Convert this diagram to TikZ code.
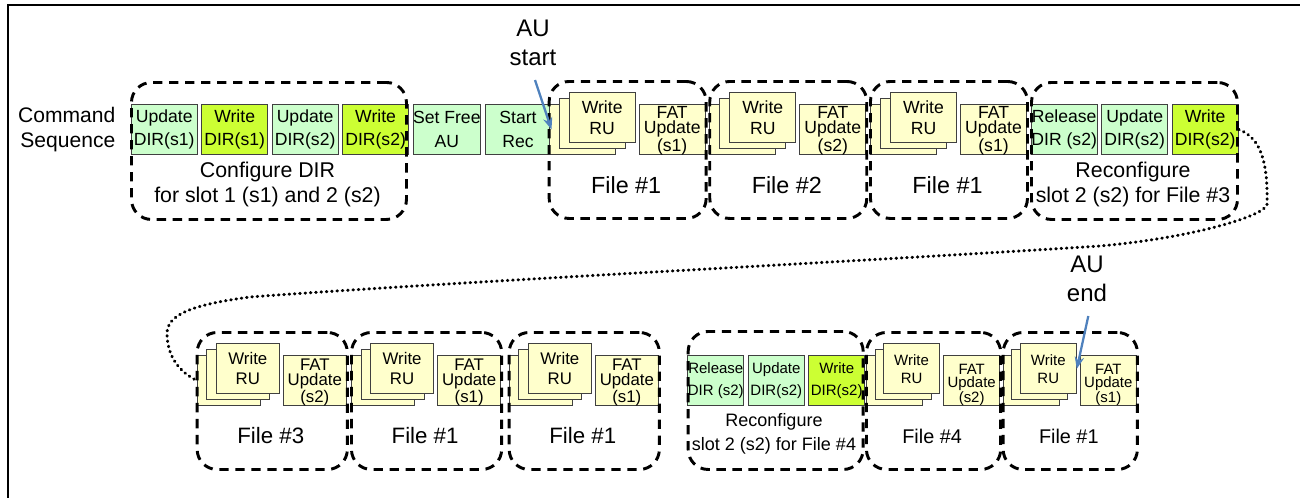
\documentclass[tikz,border=0pt]{standalone}
\usepackage{fontspec}
\setmainfont{Liberation Sans}
\usetikzlibrary{arrows.meta,positioning}
\definecolor{seqGreen}{RGB}{204,255,204}
\definecolor{seqLime}{RGB}{204,255,51}
\definecolor{seqYellow}{RGB}{255,255,204}
\definecolor{seqLine}{RGB}{64,64,64}
\definecolor{seqBlue}{RGB}{79,129,189}

\begin{document}
\begin{tikzpicture}[
  x=0.75pt, y=-0.75pt,
  node distance=2.6pt,
  cmd/.style={draw=seqLine, line width=0.75pt, fill=seqGreen, inner sep=0pt, align=center, minimum width=49.5pt, minimum height=37.5pt, font=\fontsize{13.2}{17.5}\selectfont},
  cmdw/.style={cmd, fill=seqLime},
  cmds/.style={cmd, minimum width=42pt, font=\fontsize{11.25}{16}\selectfont},
  ru/.style={draw=seqLine, line width=0.75pt, fill=seqYellow, inner sep=0pt, align=center, minimum height=37.5pt, anchor=north west},
  grp/.style={draw=black, line width=2.2pt, dash pattern=on 7pt off 5pt, rounded corners=15pt, inner sep=0pt, anchor=north west},
  lbl/.style={align=center, font=\fontsize{16}{18.75}\selectfont},
  auarr/.style={-{Stealth[length=9pt,width=7pt]}, draw=seqBlue, line width=1.7pt},
  link/.style={line width=2.3pt, line cap=round, dash pattern=on 0.4pt off 3.6pt}
]
\useasboundingbox (0,0) rectangle (1300,497);
\clip (0,0) rectangle (1300,497);
\draw[line width=1.5pt] (7.5,520) |- (1320,4.5);

\node[cmd, anchor=north west] (ud1) at (130.7,104) {Update\\DIR(s1)};
\node[cmdw, right=of ud1] (wd1) {Write\\DIR(s1)};
\node[cmd, right=of wd1] (ud2) {Update\\DIR(s2)};
\node[cmdw, right=of ud2] (wd2) {Write\\DIR(s2)};
\node[cmd, right=of wd2] (sf) {Set Free\\AU};
\node[cmd, right=of sf] (sr) {Start\\Rec};
\node[lbl, left=8pt of ud1, align=right, font=\fontsize{15.8}{18.3}\selectfont] (cmdseq) {Command\\Sequence};
\node[grp, minimum width=206.25pt, minimum height=102.75pt] (cfgGrp) at (130,81) {};
\node[lbl] (cfgLab) at (267.5,184) {Configure DIR\\for slot 1 (s1) and 2 (s2)};

\node[cmd, anchor=north west] (rel3) at (1030.7,104) {Release\\DIR (s2)};
\node[cmd, right=of rel3] (upd3) {Update\\DIR(s2)};
\node[cmdw, right=of upd3] (wr3) {Write\\DIR(s2)};
\node[grp, minimum width=154.5pt, minimum height=102.75pt] (rcf3Grp) at (1030,81) {};
\node[lbl] (rcf3Lab) at (1133,184) {Reconfigure\\slot 2 (s2) for File \#3};

\node[cmds, anchor=north west] (rel4) at (687.3,355) {Release\\DIR (s2)};
\node[cmds, right=of rel4] (upd4) {Update\\DIR(s2)};
\node[cmds, fill=seqLime, right=of upd4] (wr4) {Write\\DIR(s2)};
\node[grp, minimum width=131.25pt, minimum height=103.5pt] (rcf4Grp) at (686.7,330) {};
\node[lbl, font=\fontsize{13.5}{18}\selectfont] (rcf4Lab) at (774,434) {Reconfigure\\slot 2 (s2) for File \#4};

\foreach \nm/\gx/\gy/\gs/\fnum/\slt in {f1a/547.7/104/1/1/1, f2/708.3/104/1/2/2, f1b/869/104/1/1/1,
    f3/195.7/355/0.955/3/2, f1c/350/355/0.955/1/1, f1d/507.7/355/0.955/1/1,
    f4/865/355/0.85/4/2, f1e/1001.7/355/0.85/1/1}{
  \pgfmathsetmacro\gw{66*\gs}
  \pgfmathsetmacro\gd{10*\gs}
  \pgfmathsetmacro\fsa{13.2*\gs}
  \pgfmathsetmacro\fsb{15.75*\gs}
  \pgfmathsetmacro\fsc{11.25*\gs}
  \pgfmathsetmacro\fsl{17.5*\gs}
  \node[ru, minimum width=\gw*0.75pt] (\nm-back) at (\gx+1,\gy) {};
  \node[ru, minimum width=\gw*0.75pt] (\nm-mid) at (\gx+1+\gd,\gy-5.8) {};
  \node[ru, minimum width=\gw*0.75pt, font=\fontsize{\fsa}{\fsb}\selectfont] (\nm-ru) at (\gx+1+2*\gd,\gy-11.6) {Write\\RU};
  \node[ru, minimum width=\gw*0.75pt,
    label={[name=\nm-fattxt, anchor=south, inner sep=0pt, align=center, font=\fontsize{\fsa}{\fsc}\selectfont]south:{FAT\\Update\\(s\slt)}}]
    (\nm-fat) at (\gx+5+2*\gd+\gw,\gy) {};
  \node[grp, minimum width=(2*\gw+2*\gd+5)*0.75pt, minimum height=102.75pt] (\nm-grp) at (\gx,\gy-24) {};
  \node[lbl, font=\fontsize{\fsl}{\fsl}\selectfont] (\nm-lab) at (\gx+2.5+\gd+\gw,\gy+81) {File \#\fnum};
}

\node[lbl, font=\fontsize{18}{21.5}\selectfont] (austart) at (533,43) {AU\\start};
\coordinate (auStartTail) at (535,80);
\draw[auarr] (auStartTail) -- (sr.east);

\node[lbl, font=\fontsize{18}{21.5}\selectfont] (auend) at (1087,279) {AU\\end};
\coordinate (auEndTail) at (1088.3,316);
\draw[auarr] (auEndTail) -- (f1e-ru.east);

\draw[link] (wr3.east) .. controls (1262,138) and (1268,165) .. (1267,205)
  .. controls (1262,217) and (1190,238) .. (1100,246)
  .. controls (850,262) and (450,282) .. (250,297)
  .. controls (190,305) and (166,315) .. (167,335)
  .. controls (168,358) and (180,372) .. (f3-back.west);
\end{tikzpicture}
\end{document}
